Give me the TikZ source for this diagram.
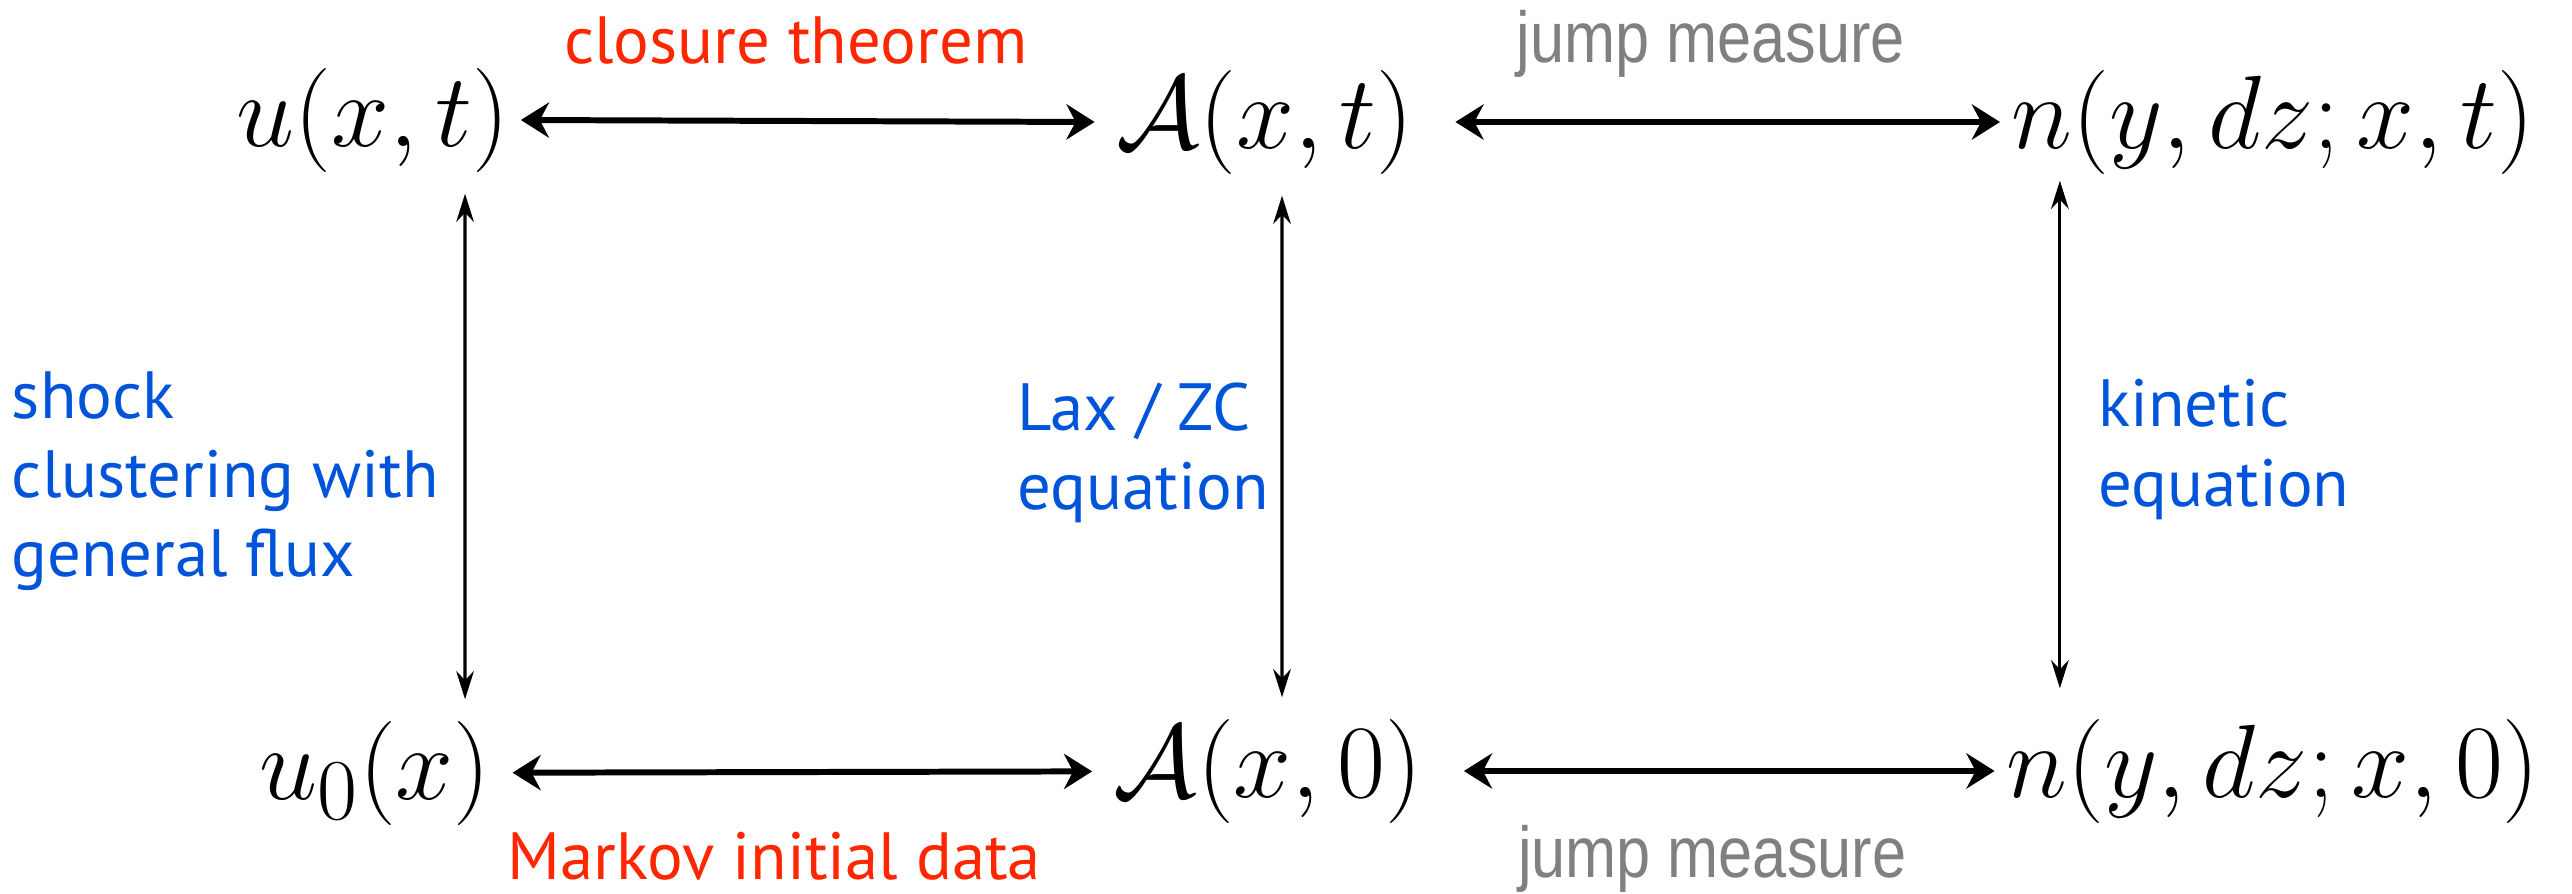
\documentclass[tikz,border=0pt]{standalone}
\usepackage{fontspec}
\usepackage{tikz}
\usetikzlibrary{arrows.meta,positioning}
\newfontfamily\notefont{PT Sans}
\newfontfamily\grayfont[FakeStretch=0.85]{Liberation Sans}
\definecolor{notered}{RGB}{255,38,0}
\definecolor{noteblue}{RGB}{0,84,217}
\definecolor{notegray}{RGB}{128,128,128}

\begin{document}
\begin{tikzpicture}[
x=0.01cm, y=-0.01cm,
term/.style={inner sep=5pt, font=\Huge, scale=1.19, transform shape},
note/.style={font=\notefont\fontsize{19}{22.5}\selectfont, align=left},
jump/.style={font=\grayfont\fontsize{20.5}{24}\selectfont, text=notegray},
harr/.style={{Stealth[length=8pt,width=10pt]}-{Stealth[length=8pt,width=10pt]}, line width=1.7pt},
varr/.style={{Stealth[length=8pt,width=5pt]}-{Stealth[length=8pt,width=5pt]}, line width=0.9pt}
]
\useasboundingbox (0,0) rectangle (2572,894);

\node[term] (ut) at (373,120) {$u(x,t)$};
\node[term] (At) at (1265,122) {$\mathcal{A}(x,t)$};
\node[term] (nt) at (2273,122) {$n(y,dz;x,t)$};
\node[term] (ub) at (375,773) {$u_0(x)$};
\node[term] (Ab) at (1268,771) {$\mathcal{A}(x,0)$};
\node[term] (nb) at (2273,771) {$n(y,dz;x,0)$};

% top row
\draw[harr] ([xshift=-0.1cm]ut.east) -- node[note, text=notered, xshift=-0.12cm, yshift=0.8cm]{closure theorem} (At.west);
\draw[harr] ([xshift=0.2cm]At.east) -- node[jump, xshift=-0.17cm, yshift=0.78cm]{jump measure} ([xshift=0.1cm]nt.west);

% bottom row
\draw[harr] (ub) -- node[note, text=notered, xshift=-0.28cm, yshift=-0.84cm]{Markov initial data} (Ab);
\draw[harr] ([xshift=0.2cm]Ab.east) -- node[jump, xshift=-0.17cm, yshift=-0.88cm]{jump measure} ([xshift=0.1cm]nb.west);

% columns
\draw[varr] ([xshift=0.92cm]ut.south) -- node[note, text=noteblue, left, xshift=-0.13cm, yshift=-0.35cm]{shock\\clustering with\\general flux} ([xshift=0.9cm]ub.north);
\draw[varr] ([xshift=0.17cm]At.south) -- node[note, text=noteblue, left, yshift=-0.06cm]{Lax / ZC\\equation} ([xshift=0.14cm]Ab.north);
\draw[varr] ([xshift=-2.13cm,yshift=0.15cm]nt.south) -- node[note, text=noteblue, right, xshift=0.25cm, yshift=-0.15cm]{kinetic\\equation} ([xshift=-2.13cm,yshift=0.09cm]nb.north);
\end{tikzpicture}
\end{document}
